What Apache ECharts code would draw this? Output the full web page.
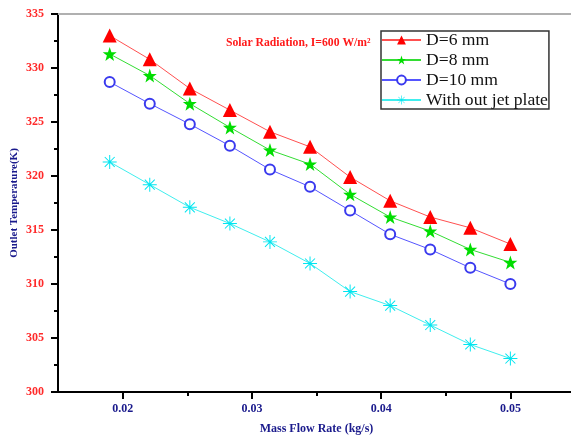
<!DOCTYPE html>
<html><head><meta charset="utf-8">
<script src="https://cdn.jsdelivr.net/npm/echarts@6/dist/echarts.min.js"></script>
<style>html,body{margin:0;padding:0;background:#fff}#c{width:571px;height:437px}</style>
</head><body><div id="c"></div>
<script>
const massFlow = [0.019, 0.0221, 0.0252, 0.0283, 0.0314, 0.0345, 0.0376, 0.0407, 0.0438, 0.0469, 0.05];
const d6 = [333.0, 330.8, 328.1, 326.1, 324.1, 322.7, 319.9, 317.7, 316.2, 315.2, 313.7];
const d8 = [331.3, 329.3, 326.7, 324.5, 322.4, 321.1, 318.3, 316.2, 314.9, 313.2, 312.0];
const d10 = [328.7, 326.7, 324.8, 322.8, 320.6, 319.0, 316.8, 314.6, 313.2, 311.5, 310.0];
const noJet = [321.3, 319.2, 317.1, 315.6, 313.9, 311.9, 309.3, 308.0, 306.2, 304.4, 303.1];
const xMajor = [0.02, 0.03, 0.04, 0.05];
const xMinor = [0.025, 0.035, 0.045];
const seriesNames = ['D=6 mm', 'D=8 mm', 'D=10 mm', 'With out jet plate'];

const asterisk = 'path://M9.3 0H10.7V20H9.3Z M0 9.3H20V10.7H0Z M3.4 2.4L17.6 16.6L16.6 17.6L2.4 3.4Z M16.6 2.4L17.6 3.4L3.4 17.6L2.4 16.6Z';
const star = 'path://M10 0L12.35 6.9L19.5 6.9L13.8 11.2L15.9 18.1L10 13.9L4.1 18.1L6.2 11.2L0.5 6.9L7.65 6.9Z';
const serif = '"Liberation Serif", "DejaVu Serif", serif';
const pair = arr => massFlow.map((x, i) => [x, arr[i]]);

const chart = echarts.init(document.getElementById('c'));
chart.setOption({
  animation: false,
  backgroundColor: '#fff',
  grid: { left: 58, top: 14, bottom: 45, right: -4, containLabel: false, outerBoundsMode: 'none' },
  xAxis: [{
    type: 'value', min: 0.015, max: 0.055, position: 'bottom',
    name: 'Mass Flow Rate (kg/s)', nameLocation: 'middle', nameGap: 31, nameMoveOverlap: false,
    nameTextStyle: { fontFamily: serif, fontWeight: 'bold', fontSize: 12, color: '#1a1a8c' },
    axisLine: { onZero: false, lineStyle: { color: '#000', width: 2 } },
    axisTick: { show: true, inside: false, length: 7, customValues: xMajor, lineStyle: { color: '#000', width: 2 } },
    axisLabel: { customValues: xMajor, margin: 11, fontFamily: serif, fontWeight: 'bold', fontSize: 12, color: '#1a1a8c',
      formatter: v => v.toFixed(2) },
    splitLine: { show: false }
  }, {
    type: 'value', min: 0.015, max: 0.055, position: 'bottom',
    axisLine: { show: false },
    axisTick: { show: true, length: 4, customValues: xMinor, lineStyle: { color: '#000', width: 2 } },
    axisLabel: { show: false }, splitLine: { show: false }
  }, {
    type: 'value', min: 0.015, max: 0.055, position: 'top',
    axisLine: { show: true, lineStyle: { color: '#b0b0b0', width: 2 } },
    axisTick: { show: false }, axisLabel: { show: false }, splitLine: { show: false }
  }],
  yAxis: {
    type: 'value', min: 300, max: 335, interval: 5,
    name: 'Outlet Temperature(K)', nameLocation: 'middle', nameGap: 38, nameRotate: 90, nameMoveOverlap: false,
    nameTextStyle: { fontFamily: serif, fontWeight: 'bold', fontSize: 11, color: '#1a1a8c' },
    axisLine: { show: true, lineStyle: { color: '#000', width: 2 } },
    axisTick: { show: true, length: 7, lineStyle: { color: '#000', width: 2 } },
    minorTick: { show: true, splitNumber: 2, length: 4, lineStyle: { color: '#000', width: 2 } },
    axisLabel: { margin: 14, fontFamily: serif, fontWeight: 'bold', fontSize: 12, color: '#ff2a2a' },
    splitLine: { show: false }
  },
  legend: {
    orient: 'vertical', left: 381, top: 31, itemWidth: 39, itemHeight: 11, itemGap: 2,
    padding: [0, 1, 0, 0], borderColor: '#333', borderWidth: 1.5, borderRadius: 0,
    textStyle: { fontFamily: serif, fontSize: 17.6, lineHeight: 18, color: '#111' },
    data: seriesNames
  },
  graphic: [{
    type: 'text', left: 226, top: 37,
    style: { text: 'Solar Radiation, I=600 W/m²', fontFamily: serif, fontWeight: 'bold', fontSize: 11.7, fill: '#ff1a1a' }
  }],
  series: [
    { name: seriesNames[0], type: 'line', data: pair(d6), symbol: 'triangle', symbolSize: 14,
      lineStyle: { color: '#ff5050', width: 1 }, itemStyle: { color: '#ff0000' } },
    { name: seriesNames[1], type: 'line', data: pair(d8), symbol: star, symbolSize: 14,
      lineStyle: { color: '#33dd33', width: 1 }, itemStyle: { color: '#00dd00' } },
    { name: seriesNames[2], type: 'line', data: pair(d10), symbol: 'emptyCircle', symbolSize: 10,
      lineStyle: { color: '#5555ff', width: 1 }, itemStyle: { color: '#3a3aee', borderWidth: 1.2 } },
    { name: seriesNames[3], type: 'line', data: pair(noJet), symbol: asterisk, symbolSize: 14,
      lineStyle: { color: '#40eeee', width: 1 }, itemStyle: { color: '#00e5f0' } }
  ]
});
</script></body></html>
